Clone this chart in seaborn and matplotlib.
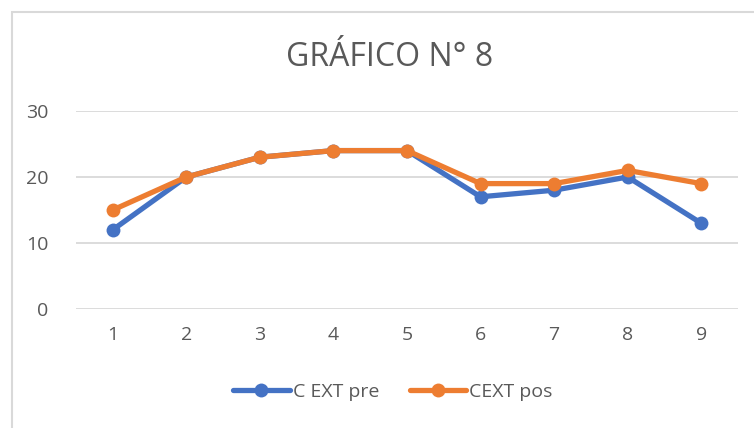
import matplotlib
matplotlib.use("Agg")
import matplotlib.pyplot as plt
import seaborn as sns
import pandas as pd
from matplotlib.patches import Rectangle

categories = [1, 2, 3, 4, 5, 6, 7, 8, 9]
c_ext_pre = [12, 20, 23, 24, 24, 17, 18, 20, 13]
cext_pos = [15, 20, 23, 24, 24, 19, 19, 21, 19]

df = pd.DataFrame({
    'x': list(range(len(categories))) * 2,
    'valor': c_ext_pre + cext_pos,
    'serie': ['C EXT pre'] * len(categories) + ['CEXT pos'] * len(categories),
})

sns.set_style('white')
plt.rcParams['font.family'] = ['Open Sans', 'DejaVu Sans']

fig = plt.figure(figsize=(7.54, 4.28), dpi=100)
ax = fig.add_axes([76 / 754, 1 - 309 / 428, (738 - 76) / 754, (309 - 111) / 428])

# chart border (Excel chart area)
fig.patches.append(Rectangle((12 / 754, -0.05), 1.0, 1 - 12 / 428 + 0.05,
                             transform=fig.transFigure, fill=False,
                             edgecolor='#D9D9D9', linewidth=1.5))

palette = {'C EXT pre': '#4472C4', 'CEXT pos': '#ED7D31'}
sns.lineplot(data=df, x='x', y='valor', hue='serie', palette=palette,
             marker='o', markersize=10, markeredgewidth=0, linewidth=3.8,
             ax=ax, legend=True)

ax.set_xlim(-0.5, len(categories) - 0.5)
ax.set_ylim(0, 30)
ax.set_yticks([0, 10, 20, 30])
ax.set_xticks(range(len(categories)))
ax.set_xticklabels([str(c) for c in categories])
ax.yaxis.grid(True, color='#D9D9D9', linewidth=1.3)
ax.set_axisbelow(True)
for s in ax.spines.values():
    s.set_visible(False)
ax.set_xlabel('')
ax.set_ylabel('')
ax.tick_params(axis='both', colors='#595959', labelsize=14, length=0)
ax.tick_params(axis='y', pad=20)
ax.tick_params(axis='x', pad=12)

fig.text(390 / 754, 1 - 58 / 428, 'GRÁFICO N° 8', ha='center', va='center',
         fontsize=23, color='#595959')

handles, labels = ax.get_legend_handles_labels()
ax.legend(handles, labels, loc='center', bbox_to_anchor=(393 / 754, 1 - 392 / 428),
          bbox_transform=fig.transFigure, ncol=2, frameon=False, fontsize=14,
          labelcolor='#595959', handlelength=2.9, handletextpad=0.15, columnspacing=1.6)

fig.savefig('out.png', dpi=100)
